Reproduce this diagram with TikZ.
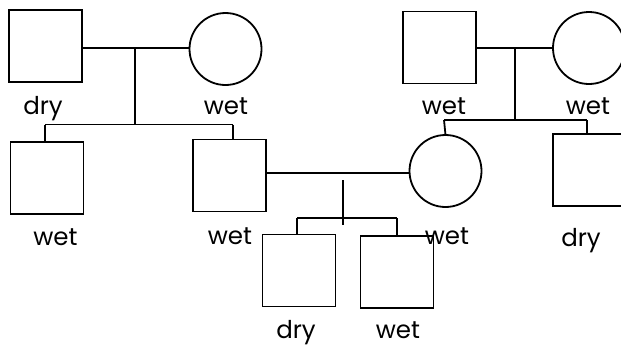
\documentclass[tikz,border=0pt]{standalone}
\usepackage{fontspec}
\setmainfont{Poppins}
\begin{document}
\begin{tikzpicture}[x=1pt,y=-1pt,
  line width=1.8pt,
  male/.style={draw, rectangle, minimum width=73pt, minimum height=72pt, inner sep=0pt, outer sep=0pt},
  female/.style={draw, circle, minimum size=72pt, inner sep=0pt, outer sep=0pt},
  lbl/.style={anchor=base, inner sep=0pt, font=\fontsize{24.5}{24.5}\selectfont},
  line/.style={line width=1.8pt}]
\useasboundingbox (0,0) rectangle (621,346);
\begin{scope}
\clip (0,0) rectangle (621,346);
% generation 1
\node[male] (A) at (45.5,46) {};
\node[female] (B) at (225.5,49) {};
\node[male] (E) at (439.5,47.5) {};
\node[female] (F) at (589,48) {};
% generation 2
\node[male] (C) at (47,178) {};
\node[male] (D) at (229.5,175.5) {};
\node[female] (G) at (445.5,171) {};
\node[male] (H) at (589.5,170) {};
% generation 3
\node[male] (I) at (299,270.5) {};
\node[male] (J) at (397,272) {};
% coordinates
\coordinate (m1) at (135,48);
\coordinate (s1) at (135,124.5);
\coordinate (s1l) at (45,124.5);
\coordinate (s1r) at (233,124.5);
\coordinate (m2) at (515,48);
\coordinate (s2) at (515,120);
\coordinate (s2l) at (444,120);
\coordinate (s2r) at (587,120);
\coordinate (m3) at (343,180);
\coordinate (s3) at (343,225);
\coordinate (s3l) at (297,218);
\coordinate (s3r) at (397,218);
% family 1
\draw[line] (A.east |- m1) -- (B.west |- m1);
\draw[line] (m1) -- (s1);
\draw[line] (s1l) -- (s1r);
\draw[line] (s1l) -- (s1l |- C.north);
\draw[line] (s1r) -- (s1r |- D.north);
% family 2
\draw[line] (E.east |- m2) -- (F.west |- m2);
\draw[line] (m2) -- (s2);
\draw[line] (s2l) -- (s2r);
\draw[line] (s2l) -- (G.north);
\draw[line] (s2r) -- (s2r |- H.north);
% family 3
\draw[line] (D.east |- 0,173) -- (G.west |- 0,173);
\draw[line] (m3) -- (s3);
\draw[line] (s3l) -- (s3r);
\draw[line] (s3l) -- (s3l |- I.north);
\draw[line] (s3r) -- (s3r |- J.north);
% labels
\node[lbl] (lA) at (43,114) {dry};
\node[lbl] (lB) at (226,114) {wet};
\node[lbl] (lE) at (444,114) {wet};
\node[lbl] (lF) at (588,114) {wet};
\node[lbl] (lC) at (55.5,245) {wet};
\node[lbl] (lD) at (230,244) {wet};
\node[lbl] (lG) at (447,244) {wet};
\node[lbl] (lH) at (581,246) {dry};
\node[lbl] (lI) at (296,338) {dry};
\node[lbl] (lJ) at (398,338) {wet};
\end{scope}
\end{tikzpicture}
\end{document}
